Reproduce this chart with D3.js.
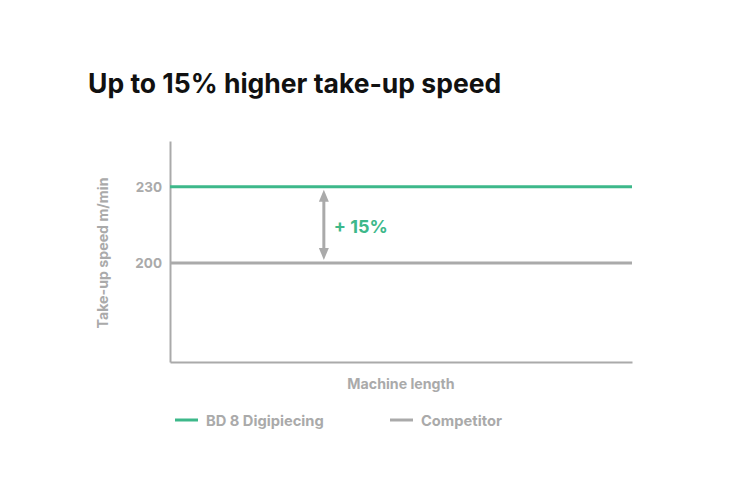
<!DOCTYPE html>
<html><head><meta charset="utf-8">
<script src="https://cdn.jsdelivr.net/npm/d3@7"></script>
<style>
body{margin:0;background:#fff;}
svg text{font-family:Inter,"Open Sans",sans-serif;}
</style></head>
<body><svg id="c" width="730" height="495"></svg>
<script>
const title = "Up to 15% higher take-up speed";
const seriesNames = ["BD 8 Digipiecing", "Competitor"];
const seriesValues = [230, 200];
const seriesColors = ["#3db88a", "#aaaaaa"];
const yTicks = [200, 230];
const yLabel = "Take-up speed m/min";
const xLabel = "Machine length";
const xPoints = [0, 1];
const annotation = "+ 15%";

const svg = d3.select("#c");
const gray = "#aaaaaa";
const m = {left:170, right:632, top:141, bottom:362};
const x = d3.scaleLinear().domain([0,1]).range([m.left, m.right]);
const y = d3.scaleLinear().domain([161, 248]).range([m.bottom, m.top]);

svg.append("text").attr("x",88).attr("y",93).attr("font-size",26.5).attr("font-weight",700)
  .attr("fill","#111").text(title);

// axes
const yAxis = svg.append("g").attr("transform",`translate(${m.left},0)`)
  .call(d3.axisLeft(y).tickValues(yTicks).tickSize(0).tickPadding(8));
yAxis.select(".domain").attr("stroke",gray).attr("stroke-width",2);
yAxis.selectAll("text").attr("fill",gray).attr("font-size",13.5).attr("font-weight",700)
  .attr("font-family","Inter,sans-serif");
const xAxis = svg.append("g").attr("transform",`translate(0,${m.bottom})`)
  .call(d3.axisBottom(x).tickValues([]).tickSize(0));
xAxis.select(".domain").attr("stroke",gray).attr("stroke-width",2);

svg.append("text").attr("transform",`translate(108,${253}) rotate(-90)`)
  .attr("text-anchor","middle").attr("font-size",14.2).attr("font-weight",700).attr("fill",gray).text(yLabel);
svg.append("text").attr("x",401).attr("y",389).attr("text-anchor","middle")
  .attr("font-size",14.2).attr("font-weight",700).attr("fill",gray).text(xLabel);

// series lines
const line = d3.line().x(d=>x(d[0])).y(d=>y(d[1]));
seriesValues.slice().reverse().forEach((v,ri)=>{
  const i = seriesValues.length-1-ri;
  svg.append("path").attr("d", line(xPoints.map(p=>[p,v])))
    .attr("stroke",seriesColors[i]).attr("stroke-width",3).attr("fill","none");
});

// arrow
const ax = x(0.333);
const yTop = y(seriesValues[0]) + 3, yBot = y(seriesValues[1]) - 3;
svg.append("line").attr("x1",ax).attr("x2",ax).attr("y1",yTop+8).attr("y2",yBot-8)
  .attr("stroke",gray).attr("stroke-width",3);
svg.append("path").attr("d",`M${ax-5},${yTop+12} L${ax},${yTop} L${ax+5},${yTop+12} Z`).attr("fill",gray);
svg.append("path").attr("d",`M${ax-5},${yBot-12} L${ax},${yBot} L${ax+5},${yBot-12} Z`).attr("fill",gray);
svg.append("text").attr("x",ax+10).attr("y",(y(seriesValues[0])+y(seriesValues[1]))/2+8)
  .attr("font-size",18).attr("font-weight",700).attr("fill",seriesColors[0]).text(annotation);

// legend
const legX = [175, 390];
seriesNames.forEach((n,i)=>{
  const g = svg.append("g").attr("transform",`translate(${legX[i]},420)`);
  g.append("line").attr("x1",0).attr("x2",23).attr("stroke",seriesColors[i]).attr("stroke-width",3);
  g.append("text").attr("x",31).attr("y",6).attr("font-size",14.7).attr("font-weight",700)
    .attr("fill",gray).text(n);
});
</script></body></html>
